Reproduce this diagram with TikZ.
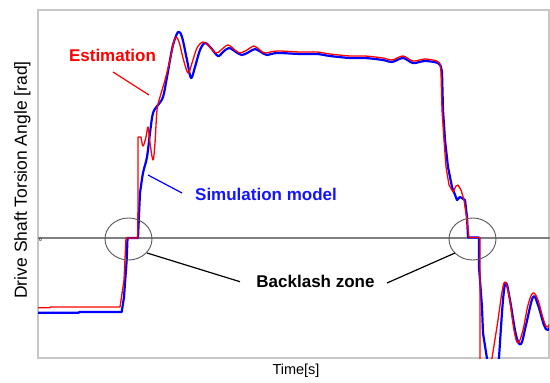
\documentclass[tikz,border=0pt]{standalone}
\usepackage{fontspec}
\setmainfont{Liberation Sans}
\usetikzlibrary{shapes.geometric}
\begin{document}
\begin{tikzpicture}[x=1pt,y=-1pt,
  frame/.style={draw=black!22, line width=1.4pt},
  zeroline/.style={draw=black!50, line width=1.1pt},
  simcurve/.style={draw=blue, line width=2.2pt, line join=round},
  estcurve/.style={draw=red, line width=1.3pt, line join=round},
  zone/.style={ellipse, draw=black!65, line width=0.9pt, minimum width=47pt, minimum height=42pt, inner sep=0pt},
  leader/.style={line width=1.2pt},
  lbl/.style={font=\fontsize{17}{20}\selectfont\bfseries, anchor=base, inner sep=0pt}]
\useasboundingbox (0,0) rectangle (550,383);
\fill[white] (0,0) rectangle (550,383);
% frame and zero line
\draw[frame] (38,10) rectangle (549,358);
\draw[zeroline] (38,238) -- (550,238);
\node[font=\fontsize{5}{5}\selectfont\bfseries, text=black!75, inner sep=0pt] (zero) at (40.5,240) {0};
% curves
\begin{scope}
\clip (38,10) rectangle (549,358);
\draw[simcurve] (38,312.7) -- (79,312.7) -- (79,312) -- (121.7,312) -- (124,297) -- (126.7,260) -- (127.5,238) -- (138,238) -- (139,215)
  -- plot[smooth, tension=0.55] coordinates {(140,193) (143,173) (147,157) (150,133) (153,113) (158,105) (163,97) (167,77) (170,60) (173,45) (178,32) (182,37) (187,60) (191,78) (195,67) (200,50) (205,43) (211,48) (218,56) (223,52) (229,48) (236,52) (242,55) (249,52) (255,49) (261,52) (267,55) (277,53) (300,54) (317,54) (330,56) (350,58) (365,58) (383,60) (392,62) (403,58) (413,63) (425,61) (438,63) (441,67)}
  -- (442,72) -- (443,110) -- (445,140) -- (448,167) -- (452,187) -- (457,200) -- (460,197) -- (465,200) -- (467,217) -- (468,237.5) -- (479,237.5) -- (479,267) -- (482,307) -- (483,333) -- (488,365)
  -- (498,365) -- plot[smooth, tension=0.6] coordinates {(499,358) (503,300) (506,283) (510,300) (516,335) (521,344) (526,325) (533,297) (538,305) (544,325) (548,330) (552,322)};
\draw[estcurve] (38,307.7) -- (50,307.7) -- (50,307) -- (120,307) -- (124,280) -- (126,238) -- (137.7,238) -- (138,200) -- (138,137)
  -- plot[smooth, tension=0.55] coordinates {(141,137) (143,146) (146,137) (148,127) (150,143) (153,160) (155,143) (157,110) (160,97) (165,80) (170,60) (175,38) (179,42) (183,58) (188,73) (192,63) (197,48) (203,42) (209,46) (216,53) (221,50) (228,45) (235,50) (240,53) (247,50) (254,46) (260,50) (265,53) (277,51) (300,52) (317,52) (330,54) (350,56) (365,56) (383,58) (392,60) (403,56) (413,61) (425,59) (437,61) (440,64)}
  -- (441,72) -- (442,110) -- (444,140) -- (446,167) -- (449,185) -- (453,192) -- (456,186) -- (458,185) -- (461,190) -- (464,200) -- (467,220) -- (469,237.5) -- (480,237.5) -- (480,365)
  -- (491,365) -- plot[smooth, tension=0.6] coordinates {(492,358) (498,320) (502,292) (505,282) (509,295) (514,330) (518,343) (523,330) (528,305) (533,293) (538,300) (543,318) (547,327) (552,320)};
\end{scope}
% backlash ellipses
\node[zone] (bl) at (128.5,239) {};
\node[zone] (br) at (472.5,239) {};
% labels
\node[lbl, text=red] (est) at (112.5,61.7) {Estimation};
\node[lbl, text={rgb,255:red,20;green,20;blue,255}] (sim) at (266,200) {Simulation model};
\node[lbl, text=black] (bz) at (315.5,287) {Backlash zone};
\node[font=\fontsize{14.5}{17}\selectfont, anchor=base, inner sep=0pt] (xl) at (296,374.5) {Time[s]};
\node[font=\fontsize{17.5}{20}\selectfont, rotate=90, anchor=base, inner sep=0pt] (yl) at (27,180) {Drive Shaft Torsion Angle [rad]};
% leader lines
\coordinate (estA) at (113,72);
\coordinate (estB) at (149,95);
\coordinate (simA) at (182,193);
\coordinate (simB) at (148,175);
\coordinate (bzA) at (240,281.7);
\coordinate (bzB) at (147,253);
\coordinate (bzC) at (387,283);
\coordinate (bzD) at (455,253);
\draw[leader, red] (estA) -- (estB);
\draw[leader, blue] (simA) -- (simB);
\draw[leader, black] (bzA) -- (bzB);
\draw[leader, black] (bzC) -- (bzD);
\end{tikzpicture}
\end{document}
